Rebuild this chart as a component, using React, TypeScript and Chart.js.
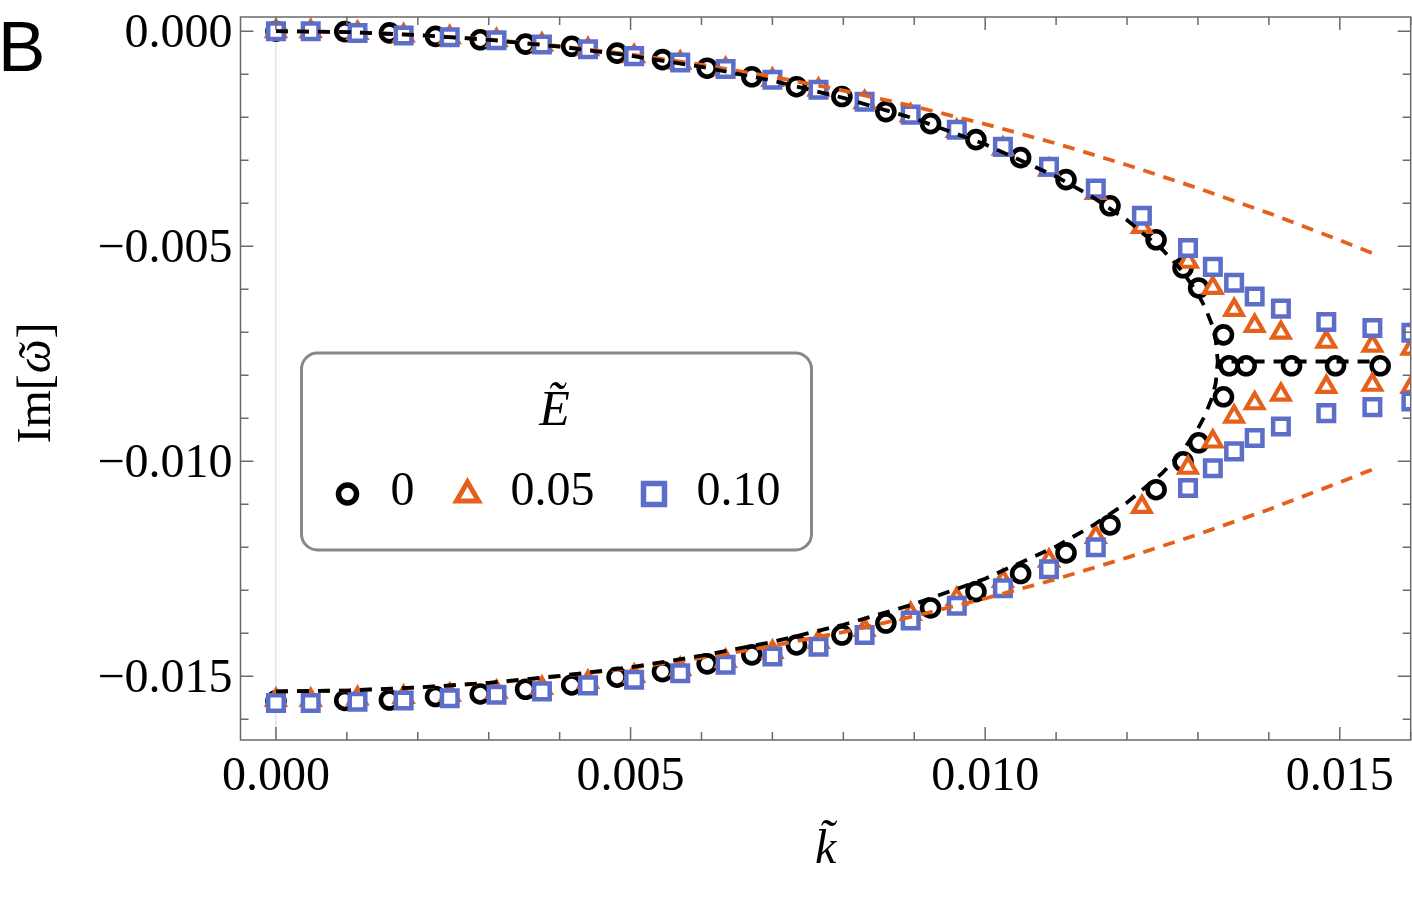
import React, { useEffect, useRef } from "react";
import { Chart, registerables } from "chart.js";

Chart.register(...registerables);

// ---------- axis ticks ----------
const xMajorTicks = [0, 0.005, 0.01, 0.015];
const xMinorTicks = [0.001, 0.002, 0.003, 0.004, 0.006, 0.007, 0.008, 0.009, 0.011, 0.012, 0.013, 0.014, 0.016];
const yMajorTicks = [0, -0.005, -0.01, -0.015];
const yMinorTicks = [-0.001, -0.002, -0.003, -0.004, -0.006, -0.007, -0.008, -0.009, -0.011, -0.012, -0.013, -0.014, -0.016];

// ---------- legend ----------
const legendTitle = "\u1EBC";
const legendLabels = ["0", "0.05", "0.10"];

// ---------- E = 0 (circles) ----------
const kCircle = [0, 0.00097, 0.0016, 0.00225, 0.00288, 0.00352, 0.00417, 0.00481, 0.00545, 0.00608, 0.00671, 0.00734, 0.00798, 0.0086, 0.00923, 0.00987, 0.0105, 0.01114, 0.01176, 0.01241, 0.01279, 0.01301, 0.01336];
const imCircleUpper = [0, -0.00001, -0.00004, -0.00012, -0.0002, -0.0003, -0.00035, -0.00051, -0.00066, -0.00086, -0.00106, -0.00129, -0.00152, -0.00187, -0.00215, -0.00252, -0.00294, -0.00345, -0.00406, -0.00485, -0.0055, -0.00597, -0.00706];
const imCircleLower = [-0.01557, -0.01556, -0.01555, -0.01547, -0.01541, -0.0153, -0.0152, -0.01502, -0.01489, -0.01471, -0.0145, -0.01427, -0.01404, -0.01376, -0.01341, -0.01303, -0.01261, -0.01213, -0.01148, -0.01066, -0.01001, -0.00957, -0.0085];
const kCircleFlat = [0.01344, 0.01368, 0.01432, 0.01494, 0.01557];
const imCircleFlat = [-0.00778, -0.00778, -0.00778, -0.00778, -0.00778];

// ---------- E = 0.05 (triangles) and E = 0.10 (squares) ----------
const kMarkers = [0, 0.00049, 0.00115, 0.0018, 0.00245, 0.00311, 0.00375, 0.0044, 0.00505, 0.0057, 0.00634, 0.007, 0.00765, 0.0083, 0.00895, 0.0096, 0.01025, 0.0109, 0.01156, 0.01221, 0.01286, 0.01321, 0.01351, 0.0138, 0.01417, 0.01481, 0.01546, 0.01601];
const imTriangleUpper = [0, 0, -0.00004, -0.0001, -0.00014, -0.00021, -0.00031, -0.00042, -0.00058, -0.00073, -0.00088, -0.00113, -0.00136, -0.00165, -0.00196, -0.00232, -0.00273, -0.00322, -0.00376, -0.00455, -0.00536, -0.00597, -0.00648, -0.00685, -0.00701, -0.00722, -0.00731, -0.00738];
const imTriangleLower = [-0.01555, -0.01555, -0.01551, -0.01548, -0.01543, -0.01536, -0.01527, -0.01513, -0.01499, -0.01483, -0.01464, -0.01443, -0.0142, -0.01392, -0.01355, -0.0132, -0.01278, -0.01231, -0.01176, -0.01106, -0.01015, -0.00954, -0.00896, -0.00865, -0.00845, -0.00827, -0.00822, -0.00827];
const imSquareUpper = [0, 0, -0.00004, -0.0001, -0.00014, -0.00021, -0.00031, -0.00042, -0.00058, -0.00073, -0.00088, -0.00113, -0.00136, -0.00164, -0.00194, -0.00229, -0.00269, -0.00315, -0.00366, -0.00429, -0.00504, -0.00548, -0.00585, -0.00617, -0.00645, -0.00676, -0.0069, -0.00701];
const kSquareLower = [0, 0.00049, 0.00115, 0.0018, 0.00245, 0.00311, 0.00375, 0.0044, 0.00505, 0.0057, 0.00634, 0.007, 0.00765, 0.0083, 0.00895, 0.0096, 0.01025, 0.0109, 0.01156, 0.01286, 0.01321, 0.01351, 0.0138, 0.01417, 0.01481, 0.01546, 0.01601];
const imSquareLower = [-0.01562, -0.01562, -0.01559, -0.01556, -0.01551, -0.01543, -0.01535, -0.01521, -0.01508, -0.01493, -0.01473, -0.01454, -0.01431, -0.01404, -0.0137, -0.01336, -0.01295, -0.01251, -0.012, -0.01062, -0.01016, -0.00977, -0.00946, -0.00919, -0.00888, -0.00874, -0.00861];

// ---------- theory curves ----------
const kTheory0 = [0, 0.001, 0.002, 0.003, 0.004, 0.005, 0.006, 0.007, 0.008, 0.009, 0.01, 0.011, 0.0115, 0.012, 0.0125, 0.0127, 0.0128, 0.013, 0.0131, 0.0132, 0.01325, 0.01328];
const imTheory0Upper = [0, -0.00002, -0.00009, -0.0002, -0.00036, -0.00057, -0.00083, -0.00115, -0.00155, -0.00203, -0.00263, -0.00338, -0.00384, -0.00439, -0.00508, -0.00543, -0.00563, -0.00611, -0.00642, -0.00683, -0.00716, -0.00768];
const imTheory0Lower = [-0.01535, -0.01533, -0.01526, -0.01515, -0.01499, -0.01479, -0.01452, -0.0142, -0.0138, -0.01332, -0.01273, -0.01198, -0.01151, -0.01096, -0.01027, -0.00992, -0.00972, -0.00924, -0.00893, -0.00852, -0.00819, -0.00768];
const kTheory0Flat = [0.01328, 0.01555];
const imTheory0Flat = [-0.00768, -0.00768];
const kTheoryE = [0, 0.001, 0.002, 0.003, 0.004, 0.005, 0.006, 0.007, 0.008, 0.009, 0.01, 0.011, 0.012, 0.013, 0.014, 0.015, 0.01555];
const imTheoryEUpper = [0, -0.00002, -0.00009, -0.00019, -0.00035, -0.00054, -0.00078, -0.00106, -0.00138, -0.00175, -0.00216, -0.00261, -0.00311, -0.00365, -0.00423, -0.00486, -0.00522];
const imTheoryELower = [-0.01535, -0.01533, -0.01526, -0.01516, -0.015, -0.01481, -0.01457, -0.01429, -0.01397, -0.0136, -0.01319, -0.01274, -0.01224, -0.0117, -0.01112, -0.01049, -0.01013];

const ORANGE = "#E5611B";
const BLUE = "#5D6EC9";
const FRAME = "#6a6a6a";
const SERIF = "'Liberation Serif', 'Times New Roman', serif";

const pts = (xs: number[], ys: number[]) => xs.map((x, i) => ({ x, y: ys[i] }));

const decoPlugin = {
  id: "deco",
  afterDatasetsDraw(chart: any) {
    const ctx = chart.ctx;
    const ca = chart.chartArea;
    const xs = chart.scales.x;
    const ys = chart.scales.y;
    ctx.save();
    ctx.strokeStyle = FRAME;
    ctx.lineWidth = 1.5;
    ctx.strokeRect(ca.left, ca.top, ca.right - ca.left, ca.bottom - ca.top);
    ctx.beginPath();
    const xt = (v: number, len: number) => {
      const p = xs.getPixelForValue(v);
      ctx.moveTo(p, ca.bottom); ctx.lineTo(p, ca.bottom - len);
      ctx.moveTo(p, ca.top); ctx.lineTo(p, ca.top + len);
    };
    const yt = (v: number, len: number) => {
      const p = ys.getPixelForValue(v);
      ctx.moveTo(ca.left, p); ctx.lineTo(ca.left + len, p);
      ctx.moveTo(ca.right, p); ctx.lineTo(ca.right - len, p);
    };
    xMajorTicks.forEach((v) => xt(v, 13));
    xMinorTicks.forEach((v) => xt(v, 8));
    yMajorTicks.forEach((v) => yt(v, 13));
    yMinorTicks.forEach((v) => yt(v, 8));
    ctx.stroke();
    ctx.restore();
  },
  afterDraw(chart: any) {
    const ctx = chart.ctx;
    const ca = chart.chartArea;
    ctx.save();
    // panel letter
    ctx.fillStyle = "#000";
    ctx.font = "71px 'Liberation Sans', Arial, sans-serif";
    ctx.textAlign = "left";
    ctx.textBaseline = "alphabetic";
    ctx.fillText("B", -2, 71);

    // y axis title: Im[ω̃]
    ctx.save();
    ctx.translate(35, 383);
    ctx.rotate(-Math.PI / 2);
    const fUp = `48px ${SERIF}`;
    const fIt = `italic 48px ${SERIF}`;
    ctx.font = fUp;
    const w1 = ctx.measureText("Im[").width;
    const w3 = ctx.measureText("]").width;
    ctx.font = fIt;
    const w2 = ctx.measureText("\u03C9").width;
    const total = w1 + w2 + w3 + 2;
    let cx = -total / 2;
    const base = 15;
    ctx.textAlign = "left";
    ctx.textBaseline = "alphabetic";
    ctx.font = fUp;
    ctx.fillText("Im[", cx, base);
    cx += w1 + 1;
    ctx.font = fIt;
    ctx.fillText("\u03C9", cx, base);
    ctx.textAlign = "center";
    ctx.fillText("\u02DC", cx + w2 / 2 + 3, base + 2);
    ctx.textAlign = "left";
    cx += w2 + 1;
    ctx.font = fUp;
    ctx.fillText("]", cx, base);
    ctx.restore();

    // legend box
    const bx = ca.left + 61, by = ca.top + 336, bw = 510, bh = 197, r = 16;
    ctx.beginPath();
    ctx.moveTo(bx + r, by);
    ctx.lineTo(bx + bw - r, by);
    ctx.arcTo(bx + bw, by, bx + bw, by + r, r);
    ctx.lineTo(bx + bw, by + bh - r);
    ctx.arcTo(bx + bw, by + bh, bx + bw - r, by + bh, r);
    ctx.lineTo(bx + r, by + bh);
    ctx.arcTo(bx, by + bh, bx, by + bh - r, r);
    ctx.lineTo(bx, by + r);
    ctx.arcTo(bx, by, bx + r, by, r);
    ctx.closePath();
    ctx.fillStyle = "#fff";
    ctx.fill();
    ctx.strokeStyle = "#888";
    ctx.lineWidth = 3;
    ctx.stroke();

    ctx.fillStyle = "#000";
    ctx.textBaseline = "alphabetic";
    ctx.textAlign = "center";
    ctx.font = `italic 50px ${SERIF}`;
    ctx.fillText(legendTitle, bx + 253, by + 72);

    const rowY = by + 152;
    ctx.textAlign = "left";
    ctx.font = `48px ${SERIF}`;
    // circle
    ctx.strokeStyle = "#000";
    ctx.lineWidth = 5.5;
    ctx.beginPath();
    ctx.arc(bx + 46, rowY - 11, 9, 0, Math.PI * 2);
    ctx.stroke();
    ctx.fillText(legendLabels[0], bx + 89, rowY);
    // triangle
    ctx.strokeStyle = ORANGE;
    ctx.lineWidth = 5;
    ctx.beginPath();
    ctx.moveTo(bx + 166, rowY - 23);
    ctx.lineTo(bx + 177, rowY - 4);
    ctx.lineTo(bx + 155, rowY - 4);
    ctx.closePath();
    ctx.stroke();
    ctx.fillText(legendLabels[1], bx + 209, rowY);
    // square
    ctx.strokeStyle = BLUE;
    ctx.lineWidth = 5.5;
    ctx.strokeRect(bx + 342, rowY - 21.5, 21, 21);
    ctx.fillText(legendLabels[2], bx + 395, rowY);
    ctx.restore();
  },
};

export default function App() {
  const ref = useRef<HTMLCanvasElement | null>(null);
  useEffect(() => {
    document.body.style.margin = "0";
    const canvas = ref.current;
    if (!canvas) return;
    const lineBase = {
      showLine: true,
      pointRadius: 0,
      pointHoverRadius: 0,
      borderWidth: 3.8,
      borderDash: [12, 9],
      tension: 0,
      fill: false,
      clip: 0,
    };
    const chart = new Chart(canvas, {
      type: "scatter",
      data: {
        datasets: [
          { ...lineBase, label: "theory0 upper", data: pts(kTheory0, imTheory0Upper), borderColor: "#000", order: 0 },
          { ...lineBase, label: "theory0 lower", data: [...pts(kTheory0, imTheory0Lower), ...pts(kTheory0Flat, imTheory0Flat).slice(1)], borderColor: "#000", order: 0 },
          { ...lineBase, label: "theoryE upper", data: pts(kTheoryE, imTheoryEUpper), borderColor: ORANGE, order: 1 },
          { ...lineBase, label: "theoryE lower", data: pts(kTheoryE, imTheoryELower), borderColor: ORANGE, order: 1 },
          {
            label: "0.10",
            data: [...pts(kMarkers, imSquareUpper), ...pts(kSquareLower, imSquareLower)],
            pointStyle: "rect", pointRadius: 11, borderWidth: 4.5, borderColor: BLUE, backgroundColor: "#fff", order: 2, clip: 0,
          },
          {
            label: "0.05",
            data: [...pts(kMarkers, imTriangleUpper), ...pts(kMarkers, imTriangleLower)],
            pointStyle: "triangle", pointRadius: 10, borderWidth: 4.2, borderColor: ORANGE, backgroundColor: "#fff", order: 3, clip: 0,
          },
          {
            label: "0",
            data: [...pts(kCircle, imCircleUpper), ...pts(kCircle, imCircleLower), ...pts(kCircleFlat, imCircleFlat)],
            pointStyle: "circle", pointRadius: 8.5, borderWidth: 4.6, borderColor: "#000", backgroundColor: "#fff", order: 4, clip: 0,
          },
        ] as any,
      },
      options: {
        animation: false,
        responsive: false,
        devicePixelRatio: 1,
        events: [],
        layout: { padding: { top: 17, right: 1.3, left: 0, bottom: 0 }, autoPadding: false },
        plugins: { legend: { display: false }, tooltip: { enabled: false } },
        scales: {
          x: {
            type: "linear",
            min: -0.0005,
            max: 0.016,
            afterBuildTicks: (s: any) => { s.ticks = xMajorTicks.map((v) => ({ value: v })); },
            afterFit: (s: any) => { s.height = 158; s.paddingLeft = 0; s.paddingRight = 0; },
            grid: {
              drawTicks: false,
              lineWidth: 1.5,
              color: (c: any) => (c.tick && c.tick.value === 0 ? "#e4e4e4" : "rgba(0,0,0,0)"),
            },
            border: { display: false },
            ticks: {
              color: "#000",
              font: { family: SERIF, size: 48 },
              padding: 9,
              maxRotation: 0,
              autoSkip: false,
              callback: (v: any) => Number(v).toFixed(3),
            },
            title: {
              display: true,
              text: "k\u0303",
              color: "#000",
              font: { family: SERIF, size: 48, style: "italic" },
              padding: { top: 0, bottom: 19 },
            },
          },
          y: {
            type: "linear",
            min: -0.01648,
            max: 0.00033,
            afterBuildTicks: (s: any) => { s.ticks = yMajorTicks.map((v) => ({ value: v })); },
            afterFit: (s: any) => { s.width = 240.5; s.paddingTop = 0; s.paddingBottom = 0; },
            grid: { display: false, drawTicks: false },
            border: { display: false },
            ticks: {
              color: "#000",
              font: { family: SERIF, size: 48 },
              padding: 8,
              labelOffset: 3,
              autoSkip: false,
              callback: (v: any) => (Number(v) === 0 ? "0.000" : "\u2212" + Math.abs(Number(v)).toFixed(3)),
            },
          },
        },
      } as any,
      plugins: [decoPlugin],
    });
    return () => chart.destroy();
  }, []);
  return (
    <div style={{ width: 1412, height: 898, background: "#fff" }}>
      <canvas ref={ref} width={1412} height={898} style={{ display: "block" }} />
    </div>
  );
}
